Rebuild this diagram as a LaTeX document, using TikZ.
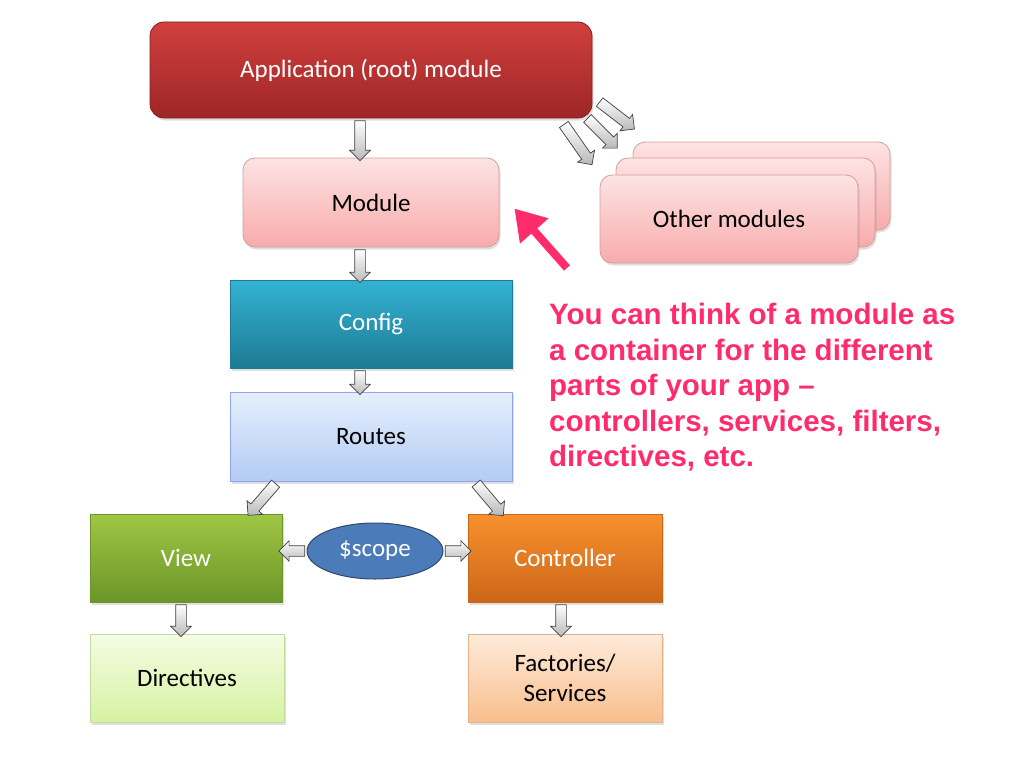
\documentclass[tikz,border=0pt]{standalone}
\usepackage{fontspec}
\setmainfont{Carlito}
\newfontfamily\notefont{Liberation Sans}[Ligatures=TeX]
\usetikzlibrary{shapes.geometric, shapes.arrows, arrows.meta, shadows}
\definecolor{appTop}{HTML}{D0403E}
\definecolor{appBot}{HTML}{9E2626}
\definecolor{modTop}{HTML}{FDE3E3}
\definecolor{modBot}{HTML}{F8ABAB}
\definecolor{cfgTop}{HTML}{33B3D3}
\definecolor{cfgBot}{HTML}{1E7A95}
\definecolor{rtsTop}{HTML}{E6EFFD}
\definecolor{rtsBot}{HTML}{B3CBF3}
\definecolor{viewTop}{HTML}{A0C644}
\definecolor{viewBot}{HTML}{6B9528}
\definecolor{ctrlTop}{HTML}{F8912E}
\definecolor{ctrlBot}{HTML}{CC6618}
\definecolor{dirTop}{HTML}{F4FCE4}
\definecolor{dirBot}{HTML}{D6F2A2}
\definecolor{facTop}{HTML}{FEEBDB}
\definecolor{facBot}{HTML}{F9BE8C}
\definecolor{scopeFill}{HTML}{4C7BBA}
\definecolor{notePink}{HTML}{FF2C6C}
\tikzset{
    box/.style = {rectangle, text centered, align=center, inner sep=2pt, font=\fontsize{25}{30}\selectfont, line width=0.8pt, drop shadow={opacity=0.25, shadow xshift=1.5pt, shadow yshift=-2.5pt}},
    approot/.style = {box, rounded corners=14pt, top color=appTop, bottom color=appBot, draw=appBot!85!black, text=white},
    module/.style = {box, rounded corners=12pt, top color=modTop, bottom color=modBot, draw=modBot!70!gray, text=black},
    config/.style = {box, top color=cfgTop, bottom color=cfgBot, draw=cfgBot, text=white},
    routes/.style = {box, top color=rtsTop, bottom color=rtsBot, draw=rtsBot!80!blue, text=black},
    view/.style = {box, top color=viewTop, bottom color=viewBot, draw=viewBot, text=white},
    ctrl/.style = {box, top color=ctrlTop, bottom color=ctrlBot, draw=ctrlBot, text=white},
    directive/.style = {box, top color=dirTop, bottom color=dirBot, draw=dirBot!80!gray, text=black},
    factory/.style = {box, top color=facTop, bottom color=facBot, draw=facBot!80!gray, text=black},
    scopenode/.style = {ellipse, fill=scopeFill, draw=scopeFill!60!black, line width=1pt, text=white, font=\fontsize{25}{30}\selectfont, minimum width=136, minimum height=56, inner sep=0pt},
    barrow/.style = {single arrow, allow upside down, sloped, midway, inner sep=5pt, single arrow head extend=5pt, top color=white, bottom color=gray!55, draw=gray!50!black, line width=0.7pt},
    callout/.style = {line width=8pt, notePink, -{Triangle[length=30pt, width=36pt]}},
    note/.style = {anchor=north west, align=left, text=notePink, font=\notefont\bfseries\fontsize{29.5}{35.5}\selectfont, inner sep=0pt}
}

\begin{document}
\begin{tikzpicture}[x=1pt, y=-1pt]
	\useasboundingbox (0,0) rectangle (1024,768);

	% other modules, stacked back to front
	\node[module, minimum width=257, minimum height=88](oth3) at (761.5, 186){};
	\node[module, minimum width=259, minimum height=89](oth2) at (745.5, 202.5){};
	\node[module, minimum width=258, minimum height=88](oth1) at (729, 219){Other modules};

	\node[approot, minimum width=442, minimum height=96](app) at (371, 70){Application (root) module};
	\node[module, minimum width=256, minimum height=89](mod) at (371, 202.5){Module};
	\node[config, minimum width=282, minimum height=88](cfg) at (371, 324){Config};
	\node[routes, minimum width=282, minimum height=89](rts) at (371, 436.5){Routes};
	\node[view, minimum width=192, minimum height=88](view) at (186, 558){View};
	\node[ctrl, minimum width=194, minimum height=88](ctrl) at (565, 558){Controller};
	\node[scopenode](scope) at (375, 551){\$scope};
	\node[directive, minimum width=194, minimum height=88](dir) at (187, 678){Directives};
	\node[factory, minimum width=194, minimum height=88](fact) at (565, 678){Factories/\\Services};

	% block arrows
	\path ([xshift=-11]app.south) -- ([xshift=-11]mod.north) node[barrow, minimum height=40]{};
	\path ([xshift=-11]mod.south) -- ([xshift=-11]cfg.north) node[barrow, minimum height=33]{};
	\path ([xshift=-11]cfg.south) -- ([xshift=-11]rts.north) node[barrow, minimum height=24]{};
	\path ([xshift=48]rts.south west) -- ([xshift=160]view.north west) node[barrow, minimum height=42]{};
	\path ([xshift=-38]rts.south east) -- ([xshift=34]ctrl.north west) node[barrow, minimum height=42]{};
	\path (scope.west) -- (scope.west -| view.east) node[barrow, minimum height=26]{};
	\path (scope.east) -- (scope.east -| ctrl.west) node[barrow, minimum height=26]{};
	\path ([xshift=-5]view.south) -- ([xshift=-5]view.south |- dir.north) node[barrow, minimum height=32]{};
	\path ([xshift=-4]ctrl.south) -- ([xshift=-4]ctrl.south |- fact.north) node[barrow, minimum height=32]{};
	\path ([shift={(-30,4)}]app.south east) -- ([shift={(-2,44)}]app.south east) node[barrow, minimum height=49]{};
	\path ([shift={(-7,-2)}]app.south east) -- ([shift={(23,28)}]app.south east) node[barrow, minimum height=42]{};
	\path ([shift={(5,-18)}]app.south east) -- ([shift={(40,9)}]app.south east) node[barrow, minimum height=44]{};

	% annotation
	\coordinate (calloutstart) at (567, 268);
	\draw[callout] (calloutstart) -- ([shift={(15,6)}]mod.east);
	\node[note](txt) at (549, 303){You can think of a module as\\a container for the different\\parts of your app \textendash\\controllers, services, filters,\\directives, etc.};
\end{tikzpicture}
\end{document}
